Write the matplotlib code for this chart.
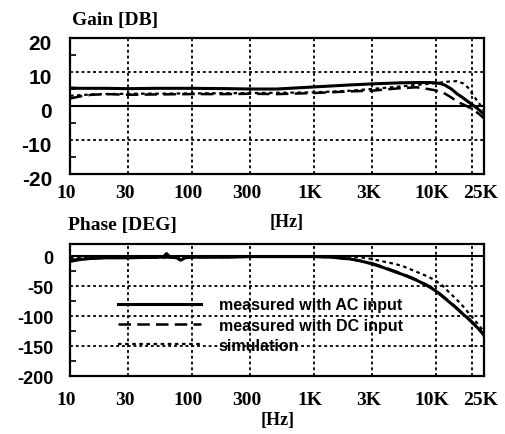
import matplotlib
matplotlib.use("Agg")
import matplotlib.pyplot as plt
import matplotlib.transforms as mtransforms
from matplotlib.ticker import FixedLocator, NullFormatter

# Frequency response data (frequency in Hz)
gain_freq_ac = [10, 12, 15, 20, 30, 50, 100, 200, 300, 500, 1000, 2000, 3000,
                5000, 7000, 9000, 10000, 11000, 12000, 13500, 15000, 16500,
                18000, 20000, 22000, 25000]
gain_ac = [5.3, 5.2, 5.2, 5.2, 5.1, 5.2, 5.2, 5.1, 5.0, 5.0, 5.6, 6.2, 6.5,
           6.8, 6.9, 6.9, 6.8, 6.6, 6.1, 5.0, 3.6, 2.6, 1.6, 0.4, -0.7, -2.4]

gain_freq_dc = [10, 12, 15, 20, 30, 50, 100, 200, 300, 500, 1000, 2000, 3000,
                5000, 7000, 9000, 10000, 12000, 13500, 15000, 17500, 20000,
                22500, 25000]
gain_dc = [2.2, 2.8, 3.3, 3.5, 3.3, 3.4, 3.5, 3.5, 3.6, 3.5, 3.8, 4.3, 4.5,
           5.2, 5.5, 4.9, 4.6, 3.6, 2.5, 1.3, 0.2, -0.9, -2.2, -3.6]

gain_freq_sim = [10, 15, 20, 30, 100, 300, 1000, 2000, 3000, 5000, 7000,
                 10000, 11500, 13000, 15000, 17000, 18500, 20000, 21500,
                 23000, 25000]
gain_sim = [3.0, 3.4, 3.5, 3.6, 3.7, 3.8, 4.0, 4.5, 5.0, 5.7, 6.2,
            6.7, 7.0, 7.2, 7.3, 6.6, 5.4, 3.6, 2.0, 0.6, -1.4]

phase_freq_ac = [10, 12, 15, 20, 30, 50, 58, 62, 66, 75, 81, 88, 100, 200,
                 300, 500, 1000, 1400, 2000, 2400, 3000, 3700, 4600, 5400,
                 6200, 7100, 8100, 9000, 10000, 11200, 12500, 14300, 16200,
                 18000, 20000, 22200, 24500, 25000]
phase_ac = [-9, -6, -4, -3, -3, -2, -2, 4, -2, -3, -7, -3, -2, -2,
            -1, -1, -1, -2, -5, -8, -13, -19, -26, -31, -36, -41, -47,
            -52, -58, -66, -74, -84, -94, -102, -111, -120, -130, -133]

phase_freq_dc = [10, 12, 15, 20, 30, 100, 300, 1000, 1400, 2000, 2400, 3000,
                 3700, 4600, 5400, 6200, 7100, 8100, 9000, 10000, 11200,
                 12500, 14300, 16200, 18000, 20000, 22200, 24500, 25000]
phase_dc = [-7, -5, -4, -3, -3, -2, -1, -1, -2, -5, -8, -12,
            -18, -25, -30, -35, -40, -46, -51, -57, -65, -73, -83, -93,
            -101, -110, -119, -129, -132]

phase_freq_sim = [10, 100, 1000, 2000, 2400, 3000, 3700, 4600, 5400, 6200,
                  7300, 8600, 9800, 11100, 13000, 14500, 16200, 18000, 20000,
                  22200, 24500, 25000]
phase_sim = [-3, -2, -1, -1, -2, -5, -9, -13, -17, -22, -28, -34, -40,
             -47, -61, -70, -80, -91, -102, -113, -124, -133]

series_labels = ["measured with AC input", "measured with DC input", "simulation"]

tick_freqs = [10, 30, 100, 300, 1000, 3000, 10000, 25000]
tick_labels = ["10", "30", "100", "300", "1K", "3K", "10K", "25K"]
grid_freqs = [30, 100, 300, 1000, 3000, 10000, 20000]

gain_ticks = [20, 10, 0, -10, -20]
gain_minor = [15, 5, -5, -15]
gain_grid = [10, -10]
phase_ticks = [0, -50, -100, -150, -200]
phase_minor = [-25, -75, -125, -175]
phase_grid = [-50, -100, -150]

serif = ["Liberation Serif", "DejaVu Serif"]
sans = ["Liberation Sans", "DejaVu Sans"]

grid_style = dict(color="black", lw=1.3, ls=(0, (1.6, 1.6)), zorder=1)
ac_style = dict(color="black", lw=2.2, ls="-", zorder=4)
dc_style = dict(color="black", lw=1.8, ls=(0, (5, 2.5)), zorder=3)
sim_style = dict(color="black", lw=1.6, ls=(0, (1.6, 1.6)), zorder=3)

fig = plt.figure(figsize=(5.05, 4.35), dpi=100)
ax1 = fig.add_axes([70 / 505, 1 - 175 / 435, 414 / 505, 136 / 435])
ax2 = fig.add_axes([70 / 505, 1 - 377 / 435, 414 / 505, 132 / 435])


def style_axes(ax, yticks, yminor, ygrid, ylim, ysize, ypad, xpad, ydrop):
    ax.set_xscale("log")
    ax.set_xlim(10, 25000)
    ax.set_ylim(*ylim)
    for f in grid_freqs:
        ax.axvline(f, **grid_style)
    for v in ygrid:
        ax.axhline(v, **grid_style)
    ax.axhline(0, color="black", lw=1.5, zorder=2)
    ax.xaxis.set_major_locator(FixedLocator(tick_freqs))
    ax.xaxis.set_minor_locator(FixedLocator([]))
    ax.xaxis.set_minor_formatter(NullFormatter())
    ax.set_xticklabels(tick_labels, fontfamily=serif, fontweight="bold",
                       fontsize=14)
    ax.set_yticks(yticks)
    ax.set_yticklabels([str(v) for v in yticks], fontfamily=sans,
                       fontweight="bold", fontsize=ysize)
    ax.yaxis.set_minor_locator(FixedLocator(yminor))
    ax.tick_params(axis="x", which="major", length=0, pad=xpad)
    ax.tick_params(axis="y", which="major", length=0, pad=ypad)
    ax.tick_params(axis="y", which="minor", direction="in", length=4,
                   width=1.2, left=True)
    shift = mtransforms.ScaledTranslation(0, -ydrop / 72, fig.dpi_scale_trans)
    for lbl in ax.get_yticklabels():
        lbl.set_transform(lbl.get_transform() + shift)
    shift_x = mtransforms.ScaledTranslation(-2.5 / 72, 0, fig.dpi_scale_trans)
    for lbl in ax.get_xticklabels():
        lbl.set_transform(lbl.get_transform() + shift_x)
    for s in ax.spines.values():
        s.set_linewidth(1.6)


style_axes(ax1, gain_ticks, gain_minor, gain_grid, (-20, 20), 15, 13, 7, 2.5)
style_axes(ax2, phase_ticks, phase_minor, phase_grid, (-200, 20), 13, 12, 11, 0)

ax1.plot(gain_freq_ac, gain_ac, **ac_style)
ax1.plot(gain_freq_dc, gain_dc, **dc_style)
ax1.plot(gain_freq_sim, gain_sim, **sim_style)

ax2.plot(phase_freq_ac, phase_ac, label=series_labels[0], **ac_style)
ax2.plot(phase_freq_dc, phase_dc, label=series_labels[1], **dc_style)
ax2.plot(phase_freq_sim, phase_sim, label=series_labels[2], **sim_style)

leg = ax2.legend(loc="upper left", bbox_to_anchor=(0.116, 0.595),
                 frameon=False, borderpad=0, borderaxespad=0,
                 handlelength=5.2, handletextpad=1.1, labelspacing=0.33,
                 prop=dict(family=sans, weight="bold", size=11.5))

fig.text(72 / 505, 1 - 21 / 435, "Gain [DB]", fontfamily=serif,
         fontweight="bold", fontsize=14, va="center", ha="left")
fig.text(68 / 505, 1 - 226 / 435, "Phase [DEG]", fontfamily=serif,
         fontweight="bold", fontsize=14, va="center", ha="left")
fig.text(287 / 505, 1 - 223 / 435, "[Hz]", fontfamily=serif,
         fontweight="bold", fontsize=13, va="center", ha="center")
fig.text(278 / 505, 1 - 421 / 435, "[Hz]", fontfamily=serif,
         fontweight="bold", fontsize=13, va="center", ha="center")

fig.savefig("out.png", dpi=100)
